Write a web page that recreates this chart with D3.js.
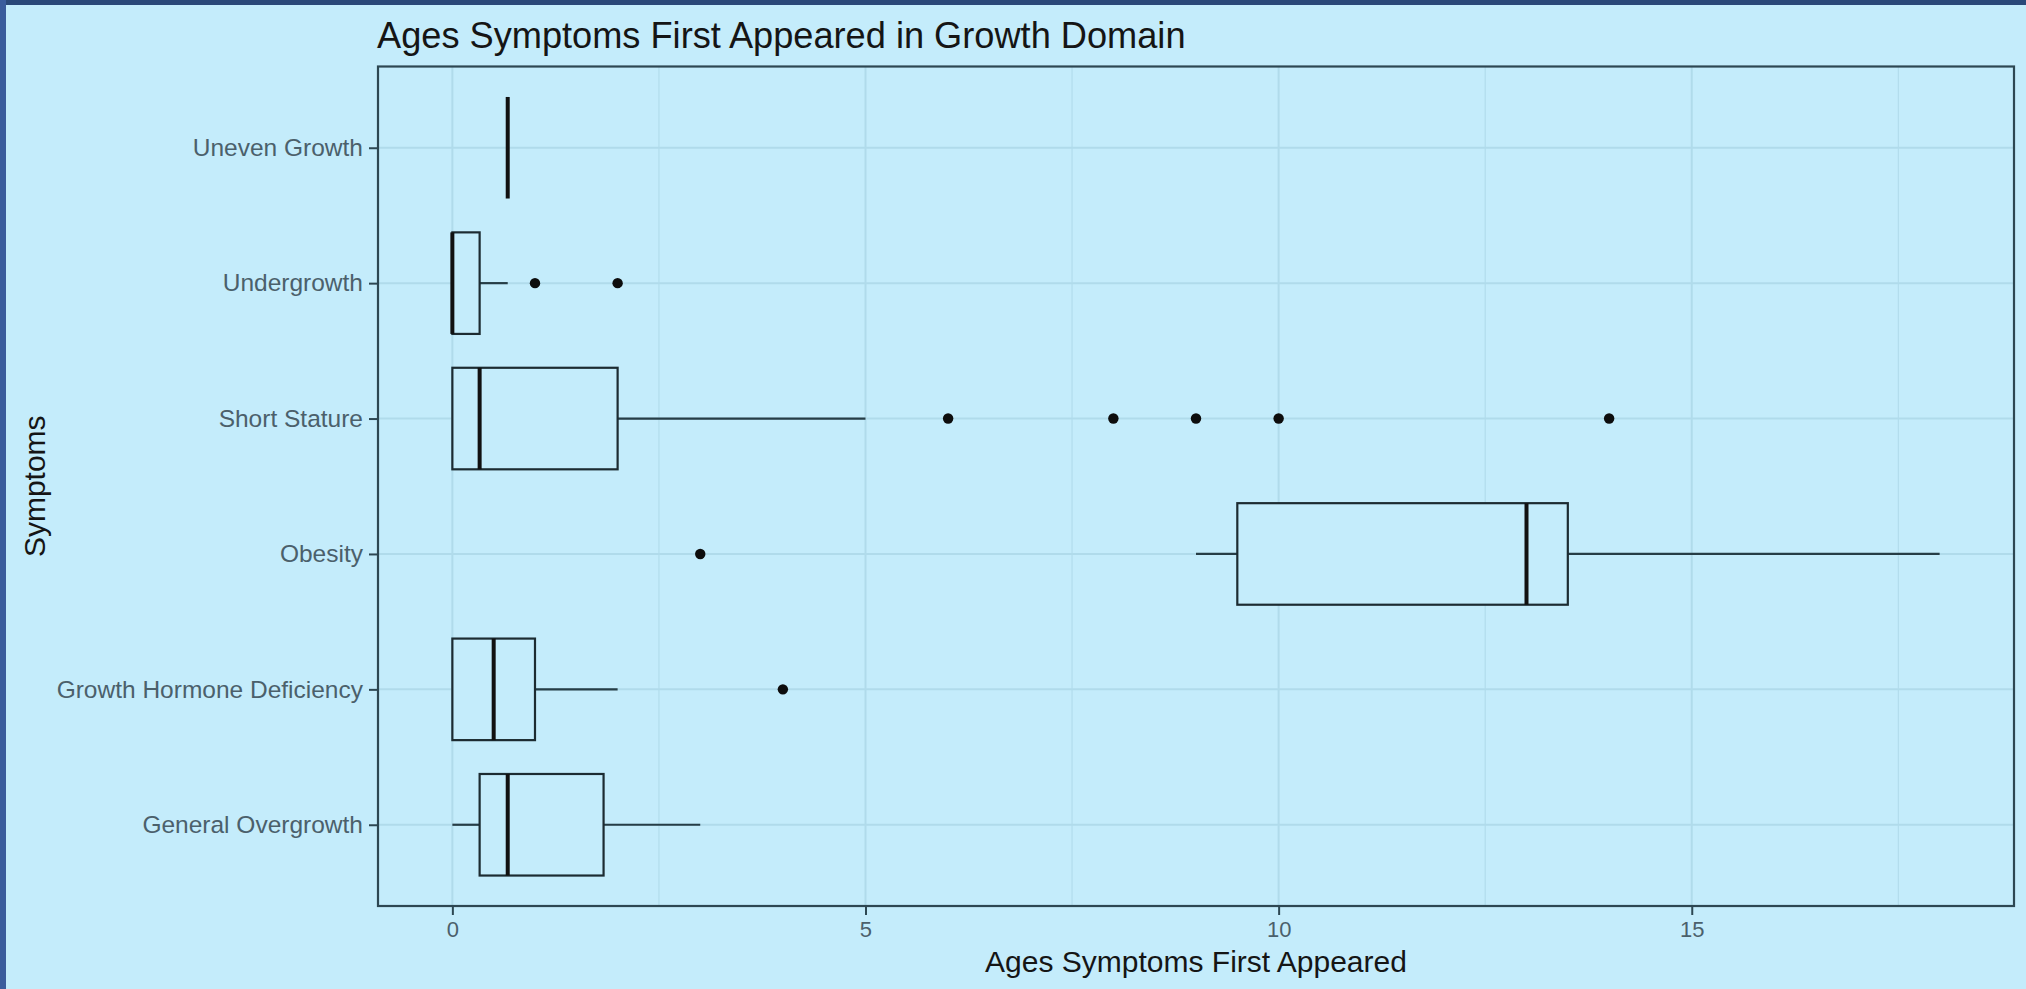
<!DOCTYPE html>
<html><head><meta charset="utf-8">
<script src="https://cdn.jsdelivr.net/npm/d3@7"></script>
<style>html,body{margin:0;padding:0;background:#c4ecfb;overflow:hidden}</style>
</head><body><svg id="chart" width="2026" height="989"></svg>
<script>
// ---- data ----
const categories = ["Uneven Growth", "Undergrowth", "Short Stature", "Obesity", "Growth Hormone Deficiency", "General Overgrowth"];
const lowerWhisker = [0.67, 0, 0, 9, 0, 0];
const q1Values     = [0.67, 0, 0, 9.5, 0, 0.33];
const medianValues = [0.67, 0, 0.33, 13, 0.5, 0.67];
const q3Values     = [0.67, 0.33, 2, 13.5, 1, 1.83];
const upperWhisker = [0.67, 0.67, 5, 18, 2, 3];
const outlierValues = [[], [1, 2], [6, 8, 9, 10, 14], [3], [4], []];
const xTicks = [0, 5, 10, 15];
const xMinorTicks = [2.5, 7.5, 12.5, 17.5];
const xDomain = [-0.9, 18.9];
const titleText = "Ages Symptoms First Appeared in Growth Domain";
const xTitle = "Ages Symptoms First Appeared";
const yTitle = "Symptoms";

// ---- layout ----
const W = 2026, H = 989;
const panel = {left: 378, right: 2014, top: 66.5, bottom: 906};
const bg = "#c4ecfb";
const gridCol = "#b0dbeb";
const frameCol = "#2d4752";
const font = "'Liberation Sans', Arial, sans-serif";

const svg = d3.select("#chart");
svg.append("rect").attr("width", W).attr("height", H).attr("fill", bg);
svg.append("rect").attr("x", 0).attr("y", 0).attr("width", W).attr("height", 5).attr("fill", "#2a4878");
svg.append("rect").attr("x", 0).attr("y", 0).attr("width", 6).attr("height", H).attr("fill", "#3a5c9c");

const x = d3.scaleLinear().domain(xDomain).range([panel.left, panel.right]);
const y = d3.scalePoint().domain(categories).range([panel.top, panel.bottom]).padding(0.6);
const boxH = y.step() * 0.75;

const data = categories.map((c, i) => ({
  cat: c, lw: lowerWhisker[i], q1: q1Values[i], med: medianValues[i], q3: q3Values[i], uw: upperWhisker[i], out: outlierValues[i]
}));

// grid
const grid = svg.append("g");
grid.selectAll("line.minor").data(xMinorTicks).join("line").attr("class", "minor")
  .attr("x1", d => x(d)).attr("x2", d => x(d)).attr("y1", panel.top).attr("y2", panel.bottom)
  .attr("stroke", gridCol).attr("stroke-width", 1.1);
grid.selectAll("line.majx").data(xTicks).join("line").attr("class", "majx")
  .attr("x1", d => x(d)).attr("x2", d => x(d)).attr("y1", panel.top).attr("y2", panel.bottom)
  .attr("stroke", gridCol).attr("stroke-width", 2);
grid.selectAll("line.majy").data(categories).join("line").attr("class", "majy")
  .attr("x1", panel.left).attr("x2", panel.right).attr("y1", d => y(d)).attr("y2", d => y(d))
  .attr("stroke", gridCol).attr("stroke-width", 2);

// boxplots
const boxes = svg.append("g").selectAll("g").data(data).join("g");
boxes.append("line").attr("x1", d => x(d.lw)).attr("x2", d => x(d.q1))
  .attr("y1", d => y(d.cat)).attr("y2", d => y(d.cat)).attr("stroke", "#263d46").attr("stroke-width", 2.2);
boxes.append("line").attr("x1", d => x(d.q3)).attr("x2", d => x(d.uw))
  .attr("y1", d => y(d.cat)).attr("y2", d => y(d.cat)).attr("stroke", "#263d46").attr("stroke-width", 2.2);
boxes.append("rect").attr("x", d => x(d.q1)).attr("width", d => x(d.q3) - x(d.q1))
  .attr("y", d => y(d.cat) - boxH / 2).attr("height", boxH)
  .attr("fill", bg).attr("stroke", "#1c2b31").attr("stroke-width", 2.2);
boxes.append("line").attr("x1", d => x(d.med)).attr("x2", d => x(d.med))
  .attr("y1", d => y(d.cat) - boxH / 2).attr("y2", d => y(d.cat) + boxH / 2)
  .attr("stroke", "#111").attr("stroke-width", 4);
boxes.selectAll("circle").data(d => d.out.map(v => ({v, cat: d.cat}))).join("circle")
  .attr("cx", d => x(d.v)).attr("cy", d => y(d.cat)).attr("r", 5.2).attr("fill", "#0d0d0d");

// panel border
svg.append("rect").attr("x", panel.left).attr("y", panel.top)
  .attr("width", panel.right - panel.left).attr("height", panel.bottom - panel.top)
  .attr("fill", "none").attr("stroke", frameCol).attr("stroke-width", 2.2);

// axes
const xAxis = svg.append("g").attr("transform", `translate(0,${panel.bottom})`)
  .call(d3.axisBottom(x).tickValues(xTicks).tickSize(9).tickPadding(6).tickSizeOuter(0));
xAxis.select(".domain").remove();
xAxis.selectAll(".tick line").attr("stroke", frameCol).attr("stroke-width", 2);
xAxis.selectAll(".tick text").attr("font-family", font).attr("font-size", 22).attr("fill", "#4b606b");

const yAxis = svg.append("g").attr("transform", `translate(${panel.left},0)`)
  .call(d3.axisLeft(y).tickSize(9).tickPadding(6).tickSizeOuter(0));
yAxis.select(".domain").remove();
yAxis.selectAll(".tick line").attr("stroke", frameCol).attr("stroke-width", 2);
yAxis.selectAll(".tick text").attr("font-family", font).attr("font-size", 24.5).attr("fill", "#4b606b");

// titles
svg.append("text").attr("x", 377).attr("y", 48).attr("font-family", font).attr("font-size", 36.2)
  .attr("fill", "#151515").text(titleText);
svg.append("text").attr("x", (panel.left + panel.right) / 2).attr("y", 972).attr("text-anchor", "middle")
  .attr("font-family", font).attr("font-size", 30).attr("fill", "#151515").text(xTitle);
svg.append("text").attr("transform", `translate(45,${(panel.top + panel.bottom) / 2}) rotate(-90)`)
  .attr("text-anchor", "middle").attr("font-family", font).attr("font-size", 30).attr("fill", "#151515").text(yTitle);
</script>
</body></html>
